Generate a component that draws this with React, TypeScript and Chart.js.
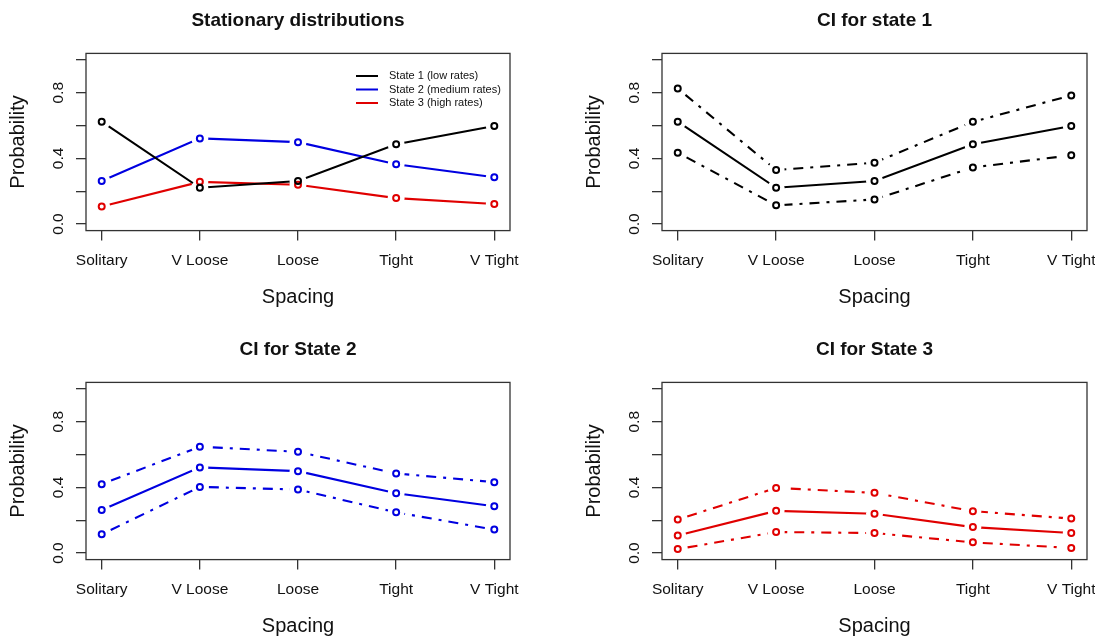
import React, { useEffect, useRef } from 'react';
import { Chart, registerables } from 'chart.js';

Chart.register(...registerables);

// ---------- data ----------
const categories = ['Solitary', 'V Loose', 'Loose', 'Tight', 'V Tight'];
const yTickValues = [0, 0.2, 0.4, 0.6, 0.8, 1.0];
const yTickLabels = ['0.0', '', '0.4', '', '0.8', ''];

const state1 = [0.624, 0.221, 0.262, 0.486, 0.598];
const state2 = [0.262, 0.522, 0.499, 0.364, 0.285];
const state3 = [0.107, 0.257, 0.239, 0.158, 0.122];

const ci1Upper = [0.826, 0.329, 0.374, 0.623, 0.784];
const ci1Lower = [0.435, 0.114, 0.15, 0.345, 0.419];
const ci2Upper = [0.42, 0.648, 0.617, 0.485, 0.432];
const ci2Lower = [0.114, 0.403, 0.387, 0.248, 0.143];
const ci3Upper = [0.204, 0.397, 0.367, 0.255, 0.21];
const ci3Lower = [0.024, 0.128, 0.122, 0.065, 0.031];

const legendLabels = ['State 1 (low rates)', 'State 2 (medium rates)', 'State 3 (high rates)'];
const panelTitles = ['Stationary distributions', 'CI for state 1', 'CI for State 2', 'CI for State 3'];
const xAxisTitle = 'Spacing';
const yAxisTitle = 'Probability';

// ---------- styles ----------
const BLACK = '#000000';
const BLUE = '#0000e0';
const RED = '#e00000';
const TEXT = '#111111';
const FRAME = '#333333';
const FONT = '"Liberation Sans", Arial, Helvetica, sans-serif';
const DOTDASH = [3, 7, 10, 7];
const GAP_R = 8.5;

const AXIS_W = 86;
const X_AXIS_H = 89.4;

type Series = { values: number[]; color: string; dashed: boolean };
type PanelCfg = {
  left: number;
  top: number;
  width: number;
  height: number;
  padLeft: number;
  padRight: number;
  title: string;
  series: Series[];
  legend: boolean;
};

const toXY = (vals: number[]) => vals.map((v, i) => ({ x: i + 1, y: v }));

const gapPlugin = {
  id: 'rGap',
  beforeDatasetDraw(chart: any, args: any) {
    const ds = chart.data.datasets[args.index];
    if (!ds.rGap) return;
    const ctx = chart.ctx;
    ctx.save();
    ctx.beginPath();
    ctx.rect(0, 0, chart.width, chart.height);
    for (const el of args.meta.data) {
      ctx.moveTo(el.x + GAP_R, el.y);
      ctx.arc(el.x, el.y, GAP_R, 0, Math.PI * 2);
    }
    ctx.clip('evenodd');
  },
  afterDatasetDraw(chart: any, args: any) {
    const ds = chart.data.datasets[args.index];
    if (!ds.rGap) return;
    chart.ctx.restore();
  },
};

const framePlugin = {
  id: 'rFrame',
  afterDraw(chart: any) {
    const { ctx, chartArea } = chart;
    ctx.save();
    ctx.strokeStyle = FRAME;
    ctx.lineWidth = 1.3;
    ctx.strokeRect(chartArea.left, chartArea.top, chartArea.right - chartArea.left, chartArea.bottom - chartArea.top);
    ctx.restore();
  },
};

const legendPlugin = {
  id: 'rLegend',
  afterDraw(chart: any, _args: any, opts: any) {
    if (!opts || !opts.show) return;
    const { ctx, chartArea } = chart;
    const colors = [BLACK, BLUE, RED];
    ctx.save();
    ctx.font = `11px ${FONT}`;
    ctx.textBaseline = 'middle';
    ctx.textAlign = 'left';
    legendLabels.forEach((lab, i) => {
      const y = chartArea.top + 22.6 + i * 13.5;
      ctx.strokeStyle = colors[i];
      ctx.lineWidth = 2;
      ctx.beginPath();
      ctx.moveTo(chartArea.right - 154, y);
      ctx.lineTo(chartArea.right - 132, y);
      ctx.stroke();
      ctx.fillStyle = TEXT;
      ctx.fillText(lab, chartArea.right - 121, y);
    });
    ctx.restore();
  },
};

function buildDatasets(series: Series[]) {
  const out: any[] = [];
  series.forEach((s) => {
    out.push({
      type: 'line',
      data: toXY(s.values),
      borderColor: s.color,
      borderWidth: 2.1,
      borderDash: s.dashed ? DOTDASH : [],
      borderCapStyle: 'butt',
      pointRadius: 0,
      fill: false,
      tension: 0,
      order: 1,
      rGap: true,
    });
    out.push({
      type: 'line',
      data: toXY(s.values),
      showLine: false,
      pointRadius: 3,
      pointBorderWidth: 2,
      pointBorderColor: s.color,
      pointBackgroundColor: 'rgba(0,0,0,0)',
      order: 0,
    });
  });
  return out;
}

function Panel({ cfg }: { cfg: PanelCfg }) {
  const ref = useRef<HTMLCanvasElement>(null);
  useEffect(() => {
    const chart = new Chart(ref.current as HTMLCanvasElement, {
      type: 'line',
      data: { datasets: buildDatasets(cfg.series) },
      plugins: [gapPlugin, framePlugin, legendPlugin],
      options: {
        animation: false,
        responsive: false,
        devicePixelRatio: 1,
        events: [],
        layout: { padding: { left: cfg.padLeft, right: cfg.padRight, top: 0, bottom: 0 } },
        plugins: {
          legend: { display: false },
          tooltip: { enabled: false },
          title: {
            display: true,
            text: cfg.title,
            fullSize: false,
            color: TEXT,
            font: { family: FONT, size: 19, weight: 'bold', lineHeight: 1.2 },
            padding: { top: 9.6, bottom: 21 },
          },
          rLegend: { show: cfg.legend },
        } as any,
        scales: {
          x: {
            type: 'linear',
            min: 0.84,
            max: 5.16,
            afterBuildTicks: (axis: any) => {
              axis.ticks = categories.map((_, i) => ({ value: i + 1 }));
            },
            afterFit: (axis: any) => {
              axis.height = X_AXIS_H;
            },
            ticks: {
              autoSkip: false,
              maxRotation: 0,
              minRotation: 0,
              padding: 0,
              color: TEXT,
              font: { family: FONT, size: 15.5, lineHeight: '40.8px' },
              callback: (v: any) => categories[Math.round(Number(v)) - 1] ?? '',
            },
            grid: { drawOnChartArea: false, drawTicks: true, tickLength: 10, tickColor: FRAME, tickWidth: 1.3, lineWidth: 1.3 },
            border: { display: false },
            title: {
              display: true,
              text: xAxisTitle,
              color: TEXT,
              font: { family: FONT, size: 20, lineHeight: 1.2 },
              padding: { top: 0, bottom: 10.3 },
            },
          },
          y: {
            type: 'linear',
            min: -0.04,
            max: 1.04,
            afterBuildTicks: (axis: any) => {
              axis.ticks = yTickValues.map((v) => ({ value: v }));
            },
            afterFit: (axis: any) => {
              axis.width = AXIS_W;
            },
            ticks: {
              autoSkip: false,
              minRotation: 90,
              maxRotation: 90,
              crossAlign: 'center',
              padding: 6.7,
              color: TEXT,
              font: { family: FONT, size: 15.5, lineHeight: 1.2 },
              callback: (_v: any, i: number) => yTickLabels[i],
            },
            grid: { drawOnChartArea: false, drawTicks: true, tickLength: 10, tickColor: FRAME, tickWidth: 1.3, lineWidth: 1.3 },
            border: { display: false },
            title: {
              display: true,
              text: yAxisTitle,
              color: TEXT,
              font: { family: FONT, size: 20, lineHeight: 1.2 },
              padding: { top: 6, bottom: 0 },
            },
          },
        },
      } as any,
    });
    return () => chart.destroy();
  }, [cfg]);
  return (
    <canvas
      ref={ref}
      width={cfg.width}
      height={cfg.height}
      style={{ position: 'absolute', left: cfg.left, top: cfg.top, width: cfg.width, height: cfg.height }}
    />
  );
}

const panels: PanelCfg[] = [
  {
    left: 0, top: 0, width: 547, height: 320, padLeft: 0, padRight: 37,
    title: panelTitles[0],
    series: [
      { values: state1, color: BLACK, dashed: false },
      { values: state2, color: BLUE, dashed: false },
      { values: state3, color: RED, dashed: false },
    ],
    legend: true,
  },
  {
    left: 547, top: 0, width: 553, height: 320, padLeft: 29, padRight: 13,
    title: panelTitles[1],
    series: [
      { values: ci1Upper, color: BLACK, dashed: true },
      { values: state1, color: BLACK, dashed: false },
      { values: ci1Lower, color: BLACK, dashed: true },
    ],
    legend: false,
  },
  {
    left: 0, top: 329, width: 547, height: 320, padLeft: 0, padRight: 37,
    title: panelTitles[2],
    series: [
      { values: ci2Upper, color: BLUE, dashed: true },
      { values: state2, color: BLUE, dashed: false },
      { values: ci2Lower, color: BLUE, dashed: true },
    ],
    legend: false,
  },
  {
    left: 547, top: 329, width: 553, height: 320, padLeft: 29, padRight: 13,
    title: panelTitles[3],
    series: [
      { values: ci3Upper, color: RED, dashed: true },
      { values: state3, color: RED, dashed: false },
      { values: ci3Lower, color: RED, dashed: true },
    ],
    legend: false,
  },
];

export default function App() {
  return (
    <div
      style={{
        position: 'fixed',
        left: 0,
        top: 0,
        width: 1095,
        height: 640,
        overflow: 'hidden',
        background: '#ffffff',
      }}
    >
      {panels.map((p, i) => (
        <Panel key={i} cfg={p} />
      ))}
    </div>
  );
}
